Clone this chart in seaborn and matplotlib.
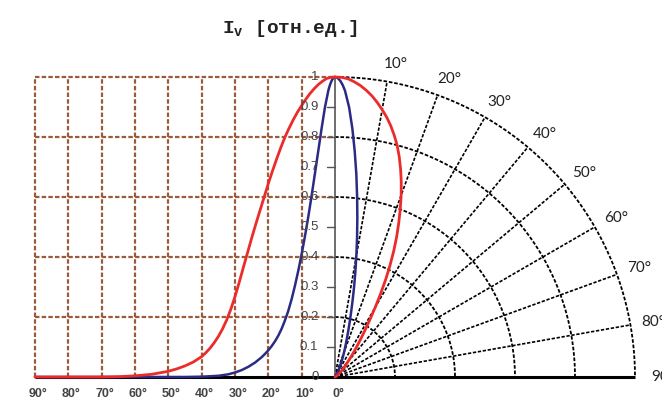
import numpy as np
import pandas as pd
import matplotlib
matplotlib.use("Agg")
import matplotlib.pyplot as plt
import seaborn as sns

# relative luminous intensity vs. angle (degrees from the axis)
red_angle = [0, 1.25, 2.5, 3.75, 5, 6.25, 7.5, 8.75, 10, 11.25, 12.5, 13.75, 15, 16.25,
             17.5, 18.75, 20, 21.25, 22.5, 23.75, 25, 26.25, 27.5, 28.75, 30, 31.25,
             32.5, 33.75, 35, 36.25, 37.5, 38.75, 40, 42.5, 45, 47.5, 50, 55, 60, 65,
             70, 80, 90]
red_value = [1.0, 0.999, 0.995, 0.986, 0.975, 0.961, 0.945, 0.926, 0.905, 0.883, 0.858,
             0.83, 0.80, 0.765, 0.727, 0.687, 0.645, 0.60, 0.555, 0.51, 0.463, 0.414,
             0.365, 0.315, 0.268, 0.226, 0.19, 0.16, 0.135, 0.114, 0.096, 0.081, 0.068,
             0.05, 0.037, 0.027, 0.019, 0.009, 0.004, 0.001, 0.0, 0.0, 0.0]

blue_angle = [0, 0.5, 1, 1.5, 2, 3, 4, 5, 6, 7, 8, 9, 10, 11, 12, 13, 14, 15, 16, 17,
              18, 19, 20, 21, 22, 24, 26, 28, 30, 32, 35, 40, 45, 60, 75, 90]
blue_value = [1.0, 0.997, 0.988, 0.974, 0.955, 0.9, 0.83, 0.755, 0.68, 0.605, 0.535,
              0.47, 0.41, 0.355, 0.305, 0.26, 0.221, 0.189, 0.161, 0.138, 0.119, 0.103,
              0.089, 0.077, 0.066, 0.048, 0.034, 0.023, 0.015, 0.009, 0.004, 0.001,
              0.0, 0.0, 0.0, 0.0]

grid_angles = [10, 20, 30, 40, 50, 60, 70, 80]
rings = [0.2, 0.4, 0.6, 0.8, 1.0]
cart_rows = [0.2, 0.4, 0.6, 0.8, 1.0]
x_tick_angles = [90, 80, 70, 60, 50, 40, 30, 20, 10, 0]
y_ticks = [0, 0.1, 0.2, 0.3, 0.4, 0.5, 0.6, 0.7, 0.8, 0.9, 1.0]
y_tick_labels = ["0", "0.1", "0.2", "0.3", "0.4", "0.5", "0.6", "0.7", "0.8", "0.9", "1"]

sns.set_style("white")
fig = plt.figure(figsize=(6.62, 3.99), dpi=100)
ax = fig.add_axes([0, 0, 1, 1])
ax.set_xlim(-335 / 300, 327 / 300)
ax.set_ylim(-22 / 300, 377 / 300)
ax.axis("off")

brown = "#9a5a3c"
dash = (0, (2.0, 1.0))

# cartesian grid (left half)
for a in x_tick_angles[:-1]:
    ax.plot([-a / 90, -a / 90], [0, 1], color=brown, lw=1.6, ls=dash)
for r in cart_rows:
    ax.plot([-1, 0], [r, r], color=brown, lw=1.6, ls=dash)

# polar grid (right quarter)
t = np.radians(np.linspace(0, 90, 200))
for r in rings:
    ax.plot(r * np.sin(t), r * np.cos(t), color="black", lw=1.3, ls=dash)
for a in grid_angles:
    th = np.radians(a)
    ax.plot([0, np.sin(th)], [0, np.cos(th)], color="black", lw=1.2, ls=dash)

# axes
ax.plot([0, 0], [0, 1], color="#555555", lw=1.2)
for v in y_ticks[1:-1]:
    ax.plot([-0.025, 0], [v, v], color="#555555", lw=1.0)
for v, lab in zip(y_ticks, y_tick_labels):
    ax.text(-0.055, v, lab, ha="right", va="center", fontsize=9.5,
            family="Liberation Sans", color="#444444")
ax.plot([-1, 1.0], [0, 0], color="black", lw=2.2, solid_capstyle="butt")

for a in x_tick_angles:
    ax.text(-a / 90 + 0.01, -0.058, f"{a}°", ha="center", va="center", fontsize=9,
            family="Liberation Sans", fontweight="bold", color="#444444")

for a in grid_angles:
    th = np.radians(a)
    ax.text(1.058 * np.sin(th) + 0.02, 1.058 * np.cos(th), f"{a}°", ha="center",
            va="center", fontsize=11, family="Lato", color="#222222")
ax.text(1.055, 0.0, "90°", ha="left", va="center", fontsize=11, family="Lato",
        color="#222222")

# curves: cartesian view and polar view from the same data
red = pd.DataFrame({"angle": red_angle, "value": red_value})
blue = pd.DataFrame({"angle": blue_angle, "value": blue_value})
for df, col, lw in [(blue, "#2b2b86", 1.8), (red, "#ec2b2b", 2.0)]:
    th = np.radians(df["angle"])
    sns.lineplot(x=-df["angle"] / 90, y=df["value"], ax=ax, color=col, lw=lw,
                 sort=False, estimator=None)
    sns.lineplot(x=df["value"] * np.sin(th), y=df["value"] * np.cos(th), ax=ax,
                 color=col, lw=lw, sort=False, estimator=None)

ax.text(-0.377, 1.148, r"I$_\mathregular{v}$ [отн.ед.]", ha="left", va="baseline",
        fontsize=14, family="Liberation Mono", fontweight="bold", color="#222222")

fig.savefig("out.png", dpi=100)
